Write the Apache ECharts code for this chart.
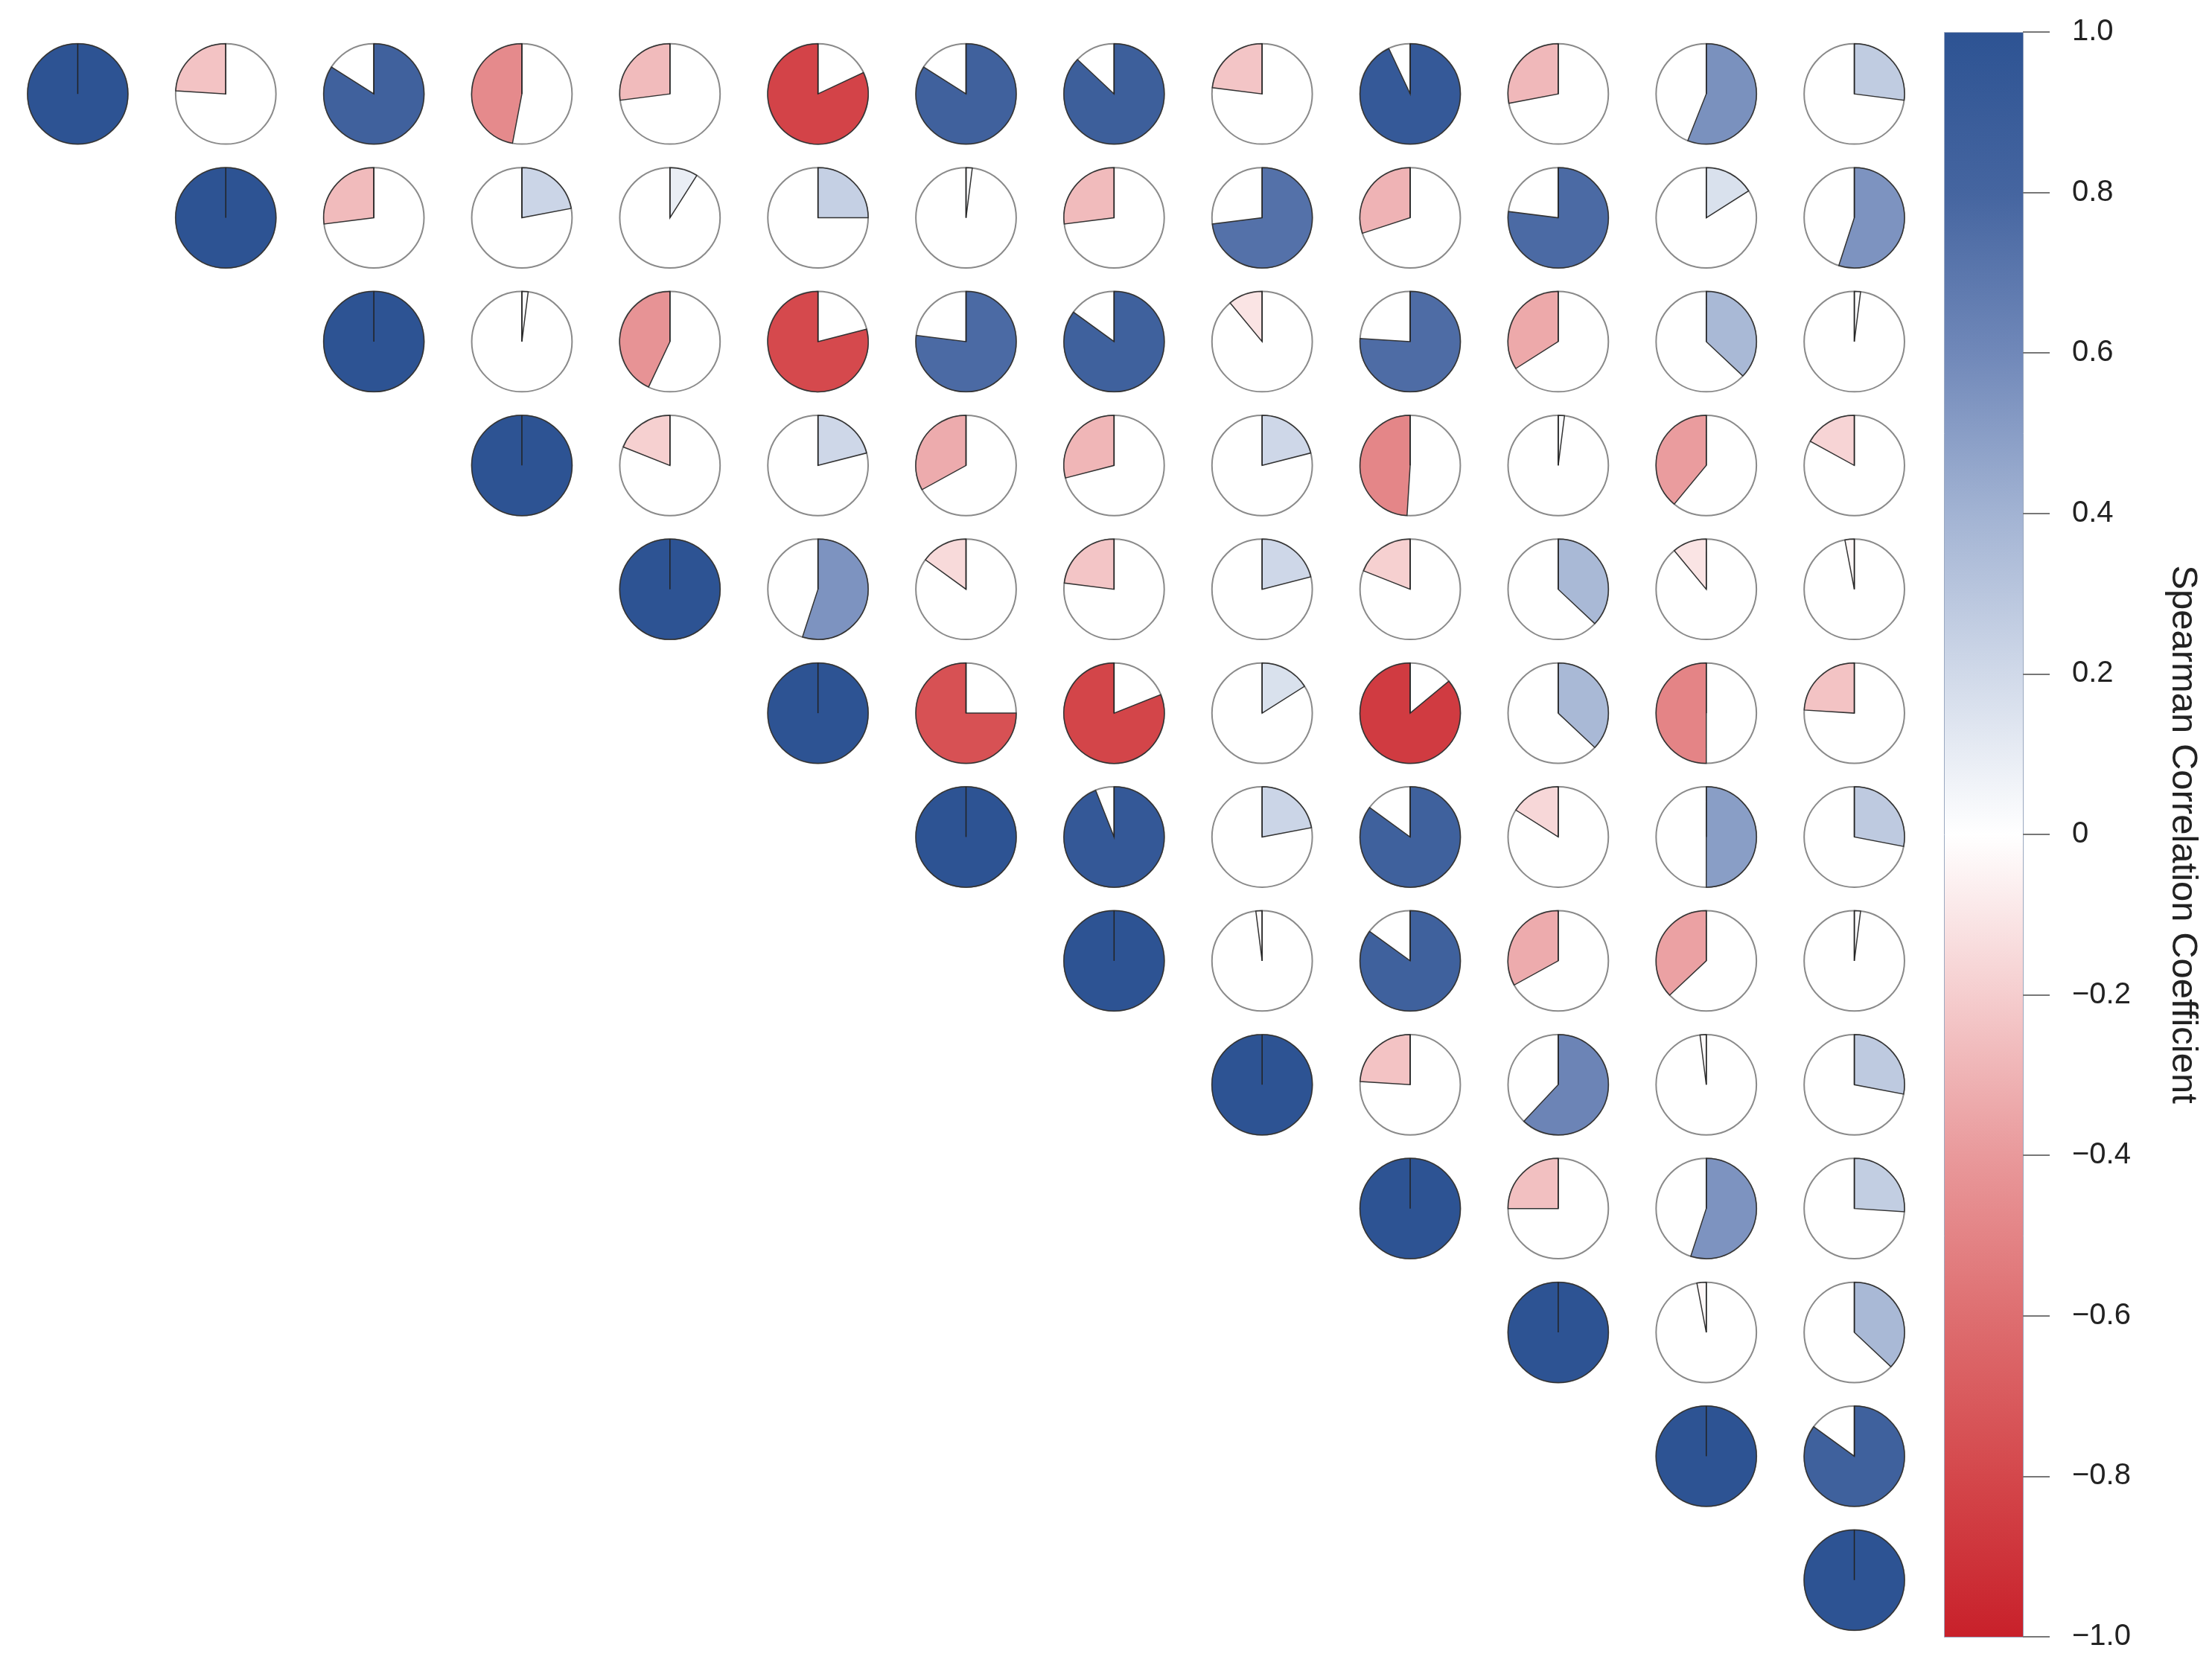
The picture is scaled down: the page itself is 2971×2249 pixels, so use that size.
<!DOCTYPE html>
<html>
<head>
<meta charset="utf-8">
<script src="https://cdn.jsdelivr.net/npm/echarts@6/dist/echarts.min.js"></script>
<style>
  html, body { margin: 0; padding: 0; background: #fff; }
  #main { width: 2971px; height: 2249px; }
</style>
</head>
<body>
<div id="main"></div>
<script>
// upper triangle of the correlation matrix, each row starts at the diagonal
var r01 = [1, -0.24, 0.84, -0.47, -0.27, -0.82, 0.84, 0.87, -0.23, 0.93, -0.28, 0.56, 0.27];
var r02 = [1, -0.27, 0.22, 0.09, 0.25, 0.02, -0.27, 0.73, -0.30, 0.77, 0.16, 0.55];
var r03 = [1, 0.02, -0.43, -0.79, 0.77, 0.85, -0.11, 0.76, -0.34, 0.37, 0.02];
var r04 = [1, -0.19, 0.21, -0.33, -0.29, 0.21, -0.49, 0.02, -0.39, -0.17];
var r05 = [1, 0.55, -0.15, -0.23, 0.21, -0.19, 0.37, -0.11, -0.03];
var r06 = [1, -0.75, -0.81, 0.16, -0.86, 0.37, -0.50, -0.24];
var r07 = [1, 0.94, 0.22, 0.85, -0.16, 0.50, 0.28];
var r08 = [1, -0.02, 0.85, -0.33, -0.37, 0.02];
var r09 = [1, -0.24, 0.62, -0.02, 0.28];
var r10 = [1, -0.25, 0.55, 0.26];
var r11 = [1, -0.03, 0.37];
var r12 = [1, 0.85];
var r13 = [1];

var tickLabels = ['\u22121.0', '\u22120.8', '\u22120.6', '\u22120.4', '\u22120.2', '0', '0.2', '0.4', '0.6', '0.8', '1.0'];
// colour stops from -1 to 1
var barColors = ['#c8202a', '#d4474b', '#de6e70', '#e9999b', '#f5cdce', '#ffffff',
                 '#d0d9e9', '#a2b3d3', '#7088b9', '#4565a0', '#2d5393'];

var rows = [r01, r02, r03, r04, r05, r06, r07, r08, r09, r10, r11, r12, r13];
var cells = [];
rows.forEach(function (row, i) {
    row.forEach(function (v, k) {
        cells.push([i + k + 1, i + 1, v]);
    });
});

// gradient for the colour bar, top = 1.0
var stops = barColors.slice().reverse().map(function (c, i) {
    return { offset: i / (barColors.length - 1), color: c };
});

var myChart = echarts.init(document.getElementById('main'));
var option = {
    animation: false,
    backgroundColor: '#ffffff',
    textStyle: { fontFamily: "'Liberation Sans', Arial, sans-serif" },
    grid: [
        { left: 5, top: 43, width: 2585, height: 2163 },
        { left: 2717, top: 43, width: 36, height: 2156 }
    ],
    xAxis: [
        { type: 'value', gridIndex: 0, min: 0.5, max: 13.5, show: false },
        { type: 'value', gridIndex: 1, min: 0, max: 1, show: false }
    ],
    yAxis: [
        { type: 'value', gridIndex: 0, min: 0.5, max: 13.5, inverse: true, show: false },
        {
            type: 'value', gridIndex: 1, position: 'right',
            min: -1, max: 1, interval: 0.2,
            name: 'Spearman Correlation Coefficient',
            nameLocation: 'middle', nameRotate: -90, nameGap: 154,
            nameTextStyle: { fontSize: 49, color: '#222' },
            axisLine: { show: false },
            axisTick: { show: false },
            splitLine: { show: true, lineStyle: { color: '#777', width: 2 } },
            axisLabel: {
                margin: 30, fontSize: 40, color: '#222',
                formatter: function (v) { return tickLabels[Math.round((v + 1) / 0.2)]; }
            }
        }
    ],
    visualMap: {
        type: 'continuous',
        show: false,
        min: -1, max: 1,
        dimension: 2,
        seriesIndex: 0,
        inRange: { color: barColors }
    },
    graphic: [{
        type: 'rect',
        left: 2611, top: 43,
        shape: { width: 106, height: 2156 },
        style: {
            fill: { type: 'linear', x: 0, y: 0, x2: 0, y2: 1, colorStops: stops },
            stroke: '#9aa8c0', lineWidth: 1
        }
    }],
    series: [{
        type: 'custom',
        coordinateSystem: 'cartesian2d',
        xAxisIndex: 0, yAxisIndex: 0,
        data: cells,
        renderItem: function (params, api) {
            var c = api.coord([api.value(0), api.value(1)]);
            var s = api.size([1, 1]);
            var r = Math.min(s[0], s[1]) * 0.405;
            var v = api.value(2);
            var top = -Math.PI / 2;
            var sweep = 2 * Math.PI * Math.abs(v);
            var a0 = v >= 0 ? top : top - sweep;
            var a1 = v >= 0 ? top + sweep : top;
            return {
                type: 'group',
                children: [
                    {
                        type: 'circle',
                        shape: { cx: c[0], cy: c[1], r: r },
                        style: { fill: '#fff', stroke: '#8a8a8a', lineWidth: 2 }
                    },
                    {
                        type: 'sector',
                        shape: { cx: c[0], cy: c[1], r: r, r0: 0, startAngle: a0, endAngle: a1, clockwise: true },
                        style: { fill: api.visual('color'), stroke: '#333', lineWidth: 1.5 }
                    },
                    {
                        type: 'line',
                        shape: { x1: c[0], y1: c[1], x2: c[0], y2: c[1] - r },
                        style: { stroke: '#222', lineWidth: 1.5 }
                    }
                ]
            };
        }
    }]
};
myChart.setOption(option);
</script>
</body>
</html>
